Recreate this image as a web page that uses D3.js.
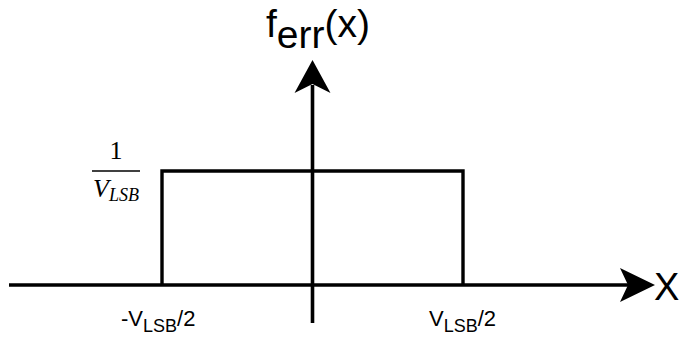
<!DOCTYPE html>
<html>
<head>
<meta charset="utf-8">
<script src="https://cdn.jsdelivr.net/npm/d3@7"></script>
<style>
  html, body { margin: 0; padding: 0; background: #fff; }
  svg { display: block; }
</style>
</head>
<body>
<script>
// Uniform quantization-error density: support in units of V_LSB, height in units of 1/V_LSB
const supportX = [-0.5, -0.5, 0.5, 0.5];
const densityY = [0, 1, 1, 0];
const tickValues = [-0.5, 0.5];
const tickLabels = [["-V", "LSB", "/2"], ["V", "LSB", "/2"]];

const W = 680, H = 342;
const svg = d3.select("body").append("svg").attr("width", W).attr("height", H);

const x = d3.scaleLinear().domain([-0.5, 0.5]).range([162, 463]);
const y = d3.scaleLinear().domain([0, 1]).range([285, 171]);

const ink = "#000";
const sans = "'Liberation Sans', Arial, sans-serif";
const serif = "'Liberation Serif', 'DejaVu Serif', serif";

// horizontal axis with arrowhead
const x0 = x(0), y0 = y(0);
svg.append("line").attr("x1", 9).attr("x2", 630).attr("y1", y0).attr("y2", y0)
  .attr("stroke", ink).attr("stroke-width", 3.6);
svg.append("path")
  .attr("d", `M655,${y0} L620,${y0 - 17} L628,${y0} L620,${y0 + 17} Z`)
  .attr("fill", ink);

// vertical axis with arrowhead
svg.append("line").attr("x1", x0).attr("x2", x0).attr("y1", 323).attr("y2", 85)
  .attr("stroke", ink).attr("stroke-width", 3.6);
svg.append("path")
  .attr("d", `M${x0},60 L${x0 - 18},93 L${x0},84 L${x0 + 18},93 Z`)
  .attr("fill", ink);

// density outline
const pts = supportX.map((v, i) => [v, densityY[i]]);
svg.append("path")
  .datum(pts)
  .attr("d", d3.line().x(d => x(d[0])).y(d => y(d[1])))
  .attr("fill", "none").attr("stroke", ink).attr("stroke-width", 3.4)
  .attr("stroke-linejoin", "miter");

// axis titles
const t = svg.append("text").attr("x", 266).attr("y", 37)
  .attr("font-family", sans).attr("font-size", 39).attr("fill", ink);
t.append("tspan").text("f");
t.append("tspan").attr("dy", 11).text("err");
t.append("tspan").attr("dy", -11).text("(x)");

svg.append("text").attr("x", 654).attr("y", 300)
  .attr("font-family", sans).attr("font-size", 38).attr("fill", ink).text("X");

// tick labels under the support edges
const tickOffsets = [-41, -34];
tickValues.forEach((v, i) => {
  const lab = svg.append("text").attr("x", x(v) + tickOffsets[i]).attr("y", 326)
    .attr("font-family", sans).attr("font-size", 22).attr("fill", ink);
  lab.append("tspan").text(tickLabels[i][0]);
  lab.append("tspan").attr("dy", 6).attr("font-size", 18).text(tickLabels[i][1]);
  lab.append("tspan").attr("dy", -6).text(tickLabels[i][2]);
});

// density level label: 1 / V_LSB
const fx = 116, fy = y(1);
svg.append("line").attr("x1", fx - 24).attr("x2", fx + 24).attr("y1", fy).attr("y2", fy)
  .attr("stroke", ink).attr("stroke-width", 1.4);
svg.append("text").attr("x", fx).attr("y", fy - 12).attr("text-anchor", "middle")
  .attr("font-family", serif).attr("font-size", 26).attr("fill", ink).text("1");
const den = svg.append("text").attr("x", fx).attr("y", fy + 26).attr("text-anchor", "middle")
  .attr("font-family", serif).attr("font-style", "italic").attr("font-size", 26).attr("fill", ink);
den.append("tspan").text("V");
den.append("tspan").attr("dy", 4).attr("font-size", 18).text("LSB");
</script>
</body>
</html>
